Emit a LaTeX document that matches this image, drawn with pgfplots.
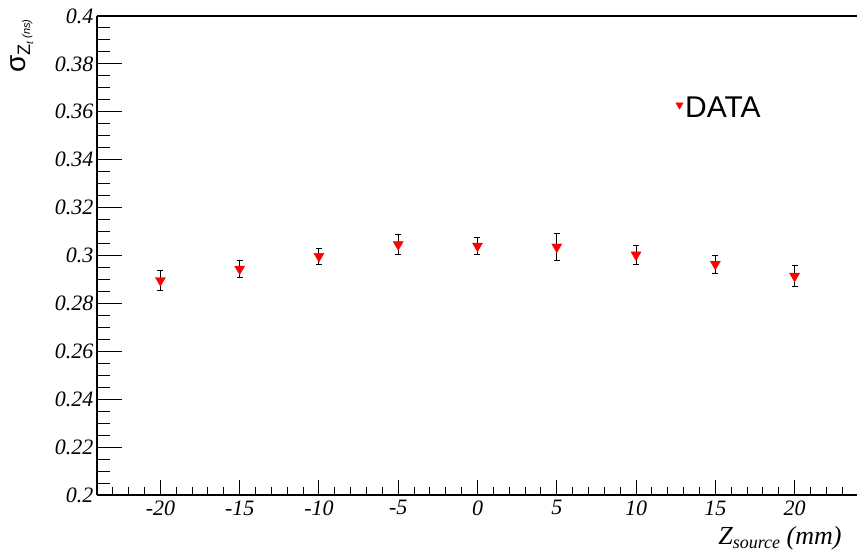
\documentclass[border=0pt]{standalone}
\usepackage{fontspec}
\setmainfont{Liberation Serif}
\newfontfamily\sansf{Liberation Sans}
\usepackage{pgfplots}
\usepackage{pgfplotstable}
\pgfplotsset{compat=1.18}
\pgfplotstableread{
x y e
-20 0.2896 0.0043
-15 0.2944 0.0037
-10 0.2997 0.0034
-5 0.3046 0.0040
0 0.3040 0.0034
5 0.3036 0.0055
10 0.3003 0.0040
15 0.2964 0.0038
20 0.2914 0.0043
}\datatable
\begin{document}
\begin{tikzpicture}
\path[use as bounding box] (-97pt,-56pt) rectangle (760pt,495pt);
\begin{axis}[
  at={(0pt,0pt)}, anchor=south west,
  scale only axis, width=761pt, height=479pt,
  xmin=-24, xmax=24, ymin=0.2, ymax=0.4,
  axis x line*=box, axis y line*=left,
  axis line style={line width=1.2pt, black},
  xtick pos=left, ytick pos=left,
  tick align=inside,
  major tick length=0pt, minor tick num=0,
  xtick={-20,-15,-10,-5,0,5,10,15,20},
  xticklabels={-20,-15,-10,-5,0,5,10,15,20},
  ytick={0.2,0.22,0.24,0.26,0.28,0.3,0.32,0.34,0.36,0.38,0.4},
  yticklabels={0.2,0.22,0.24,0.26,0.28,0.3,0.32,0.34,0.36,0.38,0.4},
  ticklabel style={font=\fontsize{22}{26}\selectfont\itshape},
  xticklabel style={yshift=-2pt},
  xlabel={\fontsize{26}{30}\selectfont\itshape Z\raisebox{-4pt}{\fontsize{18}{22}\selectfont source} (mm)},
  xlabel style={at={(axis description cs:0.983,0)}, anchor=base east, yshift=-49pt},
  ylabel={{\sansf\fontsize{28}{30}\selectfont σ}{\sansf\fontsize{18}{20}\selectfont\raisebox{-5pt}{Z\raisebox{-3pt}{\fontsize{10}{12}\selectfont\itshape t}\,\fontsize{11}{12}\selectfont\itshape (ns)}}},
  ylabel style={at={(axis description cs:-0.099,1)}, anchor=east},
  legend style={at={(axis cs:12.5,0.3616)}, anchor=west, draw=none, fill=none, inner sep=0pt,
    font=\sansf\fontsize{30}{33}\selectfont, /tikz/every even column/.append style={column sep=0pt}},
  legend image code/.code={\draw[#1, mark size=4.2pt] plot coordinates {(0pt,3pt)};},
]
% tick marks (ROOT style: inside, left and bottom only)
\pgfplotsinvokeforeach{0,...,48}{\draw[black, line width=1pt] (rel axis cs:#1/48,0) -- ++(0pt,8pt);}
\pgfplotsinvokeforeach{0,...,8}{\draw[black, line width=1pt] (rel axis cs:{(#1*5+4)/48},0) -- ++(0pt,15pt);}
\pgfplotsinvokeforeach{0,...,40}{\draw[black, line width=1pt] (rel axis cs:0,#1/40) -- ++(13pt,0pt);}
\pgfplotsinvokeforeach{0,...,10}{\draw[black, line width=1pt] (rel axis cs:0,#1/10) -- ++(25pt,0pt);}
\addplot[only marks, mark=triangle*, mark size=5.8pt,
  mark options={rotate=180, fill=red, draw=red},
  error bars/.cd, y dir=both, y explicit,
  error bar style={black, line width=1pt},
  error mark options={rotate=90, black, mark size=3pt, line width=1pt}]
  table[x=x, y=y, y error=e] {\datatable};
\addlegendentry{DATA}
\end{axis}
\end{tikzpicture}
\end{document}
